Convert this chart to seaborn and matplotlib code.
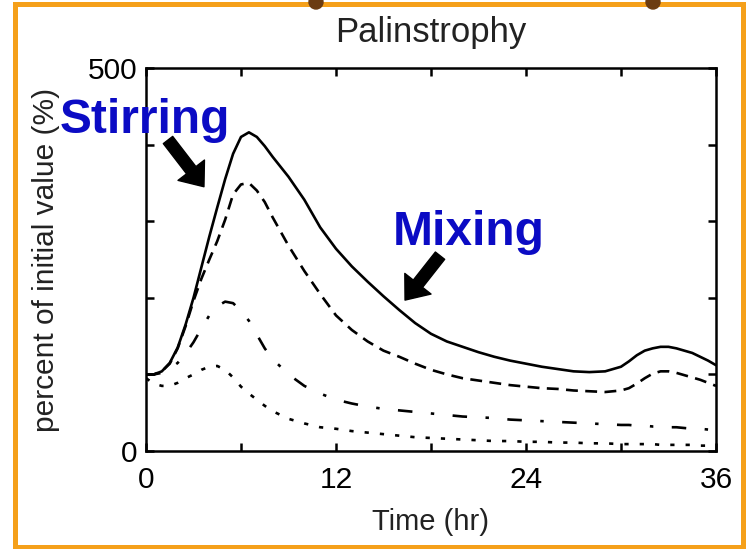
import matplotlib
matplotlib.use("Agg")
import matplotlib.pyplot as plt
from matplotlib.patches import Rectangle, Ellipse
import pandas as pd
import seaborn as sns

# time axis (hr) shared by all four curves
time_hr = [0, 0.5, 1, 1.5, 2, 2.5, 3, 3.5, 4, 4.5, 5, 5.5, 6, 6.5, 7, 7.5, 8,
           9, 10, 11, 12, 13, 14, 15, 16, 17, 18, 19, 20, 21, 22, 23, 24, 25, 26, 27, 28, 29,
           30, 30.5, 31, 31.5, 32, 32.5, 33, 33.5, 34, 34.5, 35, 35.5, 36]

# percent of initial value
solid = [100, 100, 104, 115, 135, 165, 200, 240, 280, 318, 355, 388, 410, 416, 410, 398, 384,
         358, 328, 292, 264, 241, 221, 202, 184, 167, 153, 143, 136, 129, 123, 118, 114, 110, 107, 104, 103, 104,
         110, 117, 125, 131, 134, 136, 136, 134, 131, 128, 123, 118, 112]
dashed = [100, 100, 104, 114, 134, 163, 196, 225, 250, 274, 302, 335, 348, 350, 340, 325, 305,
          268, 235, 205, 177, 158, 143, 131, 123, 114, 106, 100, 95, 92, 89, 86, 84, 82, 81, 79, 78, 77,
          79, 82, 88, 95, 101, 104, 104, 102, 99, 96, 93, 89, 85]
dashdot = [100, 100, 102, 107, 115, 127, 142, 160, 177, 189, 195, 193, 183, 170, 152, 134, 120,
           100, 85, 75, 67, 62, 58, 55, 53, 51, 49, 47, 45, 44, 43, 41, 40, 39, 38, 37, 36, 35,
           34, 34, 33, 33, 32, 32, 31, 31, 30, 29, 29, 28, 27]
dotted = [95, 88, 85, 85, 89, 95, 100, 106, 110, 111, 106, 96, 84, 75, 67, 59, 52,
          42, 36, 31, 29, 26, 24, 22, 20, 18, 17, 16, 15, 14, 13, 13, 12, 12, 11, 11, 10, 10,
          9, 9, 9, 9, 9, 8, 8, 8, 8, 8, 7, 7, 7]

x_ticks = [0, 6, 12, 18, 24, 30, 36]
x_ticklabels = ["0", "", "12", "", "24", "", "36"]
y_ticks = [0, 100, 200, 300, 400, 500]
y_ticklabels = ["0", "", "", "", "", "500"]

n = len(time_hr)
df = pd.DataFrame({
    "time": time_hr * 4,
    "value": solid + dashed + dashdot + dotted,
    "run": ["solid"] * n + ["dashed"] * n + ["dashdot"] * n + ["dotted"] * n,
})

sns.set_theme(style="ticks")
plt.rcParams["font.family"] = ["Liberation Sans", "DejaVu Sans"]

fig = plt.figure(figsize=(7.46, 5.49), dpi=100)
ax = fig.add_axes([146 / 746, 1 - 451 / 549, 570 / 746, 383 / 549])

sns.lineplot(data=df, x="time", y="value", style="run",
             dashes={"solid": "", "dashed": (4.5, 2.8), "dashdot": (5.5, 7, 1.3, 7), "dotted": (1.6, 4.2)},
             color="black", linewidth=1.9, legend=False, estimator=None, sort=False, ax=ax)

ax.set_xlim(0, 36)
ax.set_ylim(0, 500)
ax.set_xticks(x_ticks)
ax.set_xticklabels(x_ticklabels)
ax.set_yticks(y_ticks)
ax.set_yticklabels(y_ticklabels)
ax.tick_params(direction="in", top=True, right=True, length=6, width=1.8,
               labelsize=21.5, colors="black")
ax.tick_params(axis="x", pad=11)
ax.tick_params(axis="y", pad=6)
for s in ax.spines.values():
    s.set_linewidth(1.8)
    s.set_color("black")

ax.set_title("Palinstrophy", fontsize=25, color="#222222", pad=19)
ax.set_xlabel("Time (hr)", fontsize=21, color="#222222", labelpad=10)
ax.set_ylabel("percent of initial value (%)", fontsize=21.5, color="#222222", labelpad=20)

# annotations
blue = "#0b0bc4"
ax.text(-5.43, 415, "Stirring", fontsize=34.5, fontweight="bold", color=blue,
        ha="left", va="baseline", clip_on=False)
ax.text(15.6, 269, "Mixing", fontsize=34.5, fontweight="bold", color=blue,
        ha="left", va="baseline", clip_on=False)
arrow = dict(facecolor="black", edgecolor="black", width=8.5, headwidth=24, headlength=15, shrink=0)
ax.annotate("", xy=(3.66, 345), xytext=(1.39, 406), arrowprops=arrow, annotation_clip=False)
ax.annotate("", xy=(16.36, 197), xytext=(18.57, 255), arrowprops=arrow, annotation_clip=False)

# slide frame
fig.add_artist(Rectangle((15 / 746, 1 - 547 / 549), 728 / 746, 543 / 549, transform=fig.transFigure,
                         fill=False, edgecolor="#f5a01a", linewidth=3.6, clip_on=False))
for px in [316, 653]:
    fig.add_artist(Ellipse((px / 746, 1 - 2 / 549), 14 / 746, 14 / 549, transform=fig.transFigure,
                           color="#6b3c12", clip_on=False))

fig.savefig("out.png", dpi=100)
